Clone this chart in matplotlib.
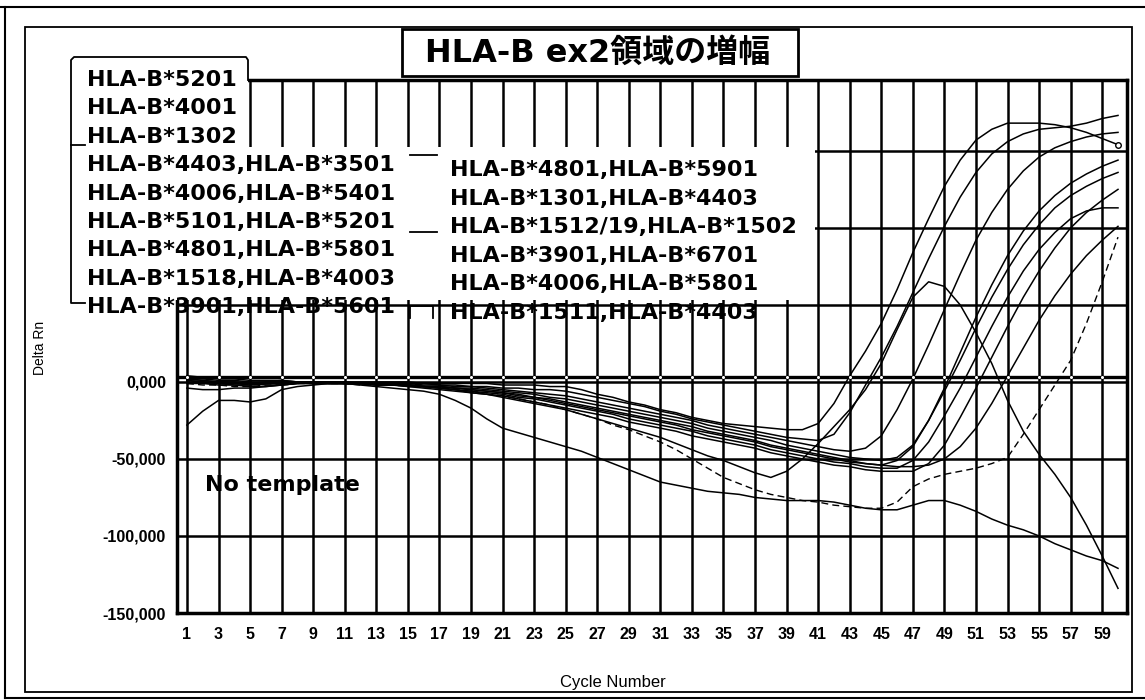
import numpy as np
import matplotlib
matplotlib.use("Agg")
import matplotlib.pyplot as plt
import matplotlib.transforms as mtransforms
from matplotlib.patches import Rectangle
from matplotlib.lines import Line2D

# ---------------------------------------------------------------- data
cycles = np.arange(1, 61)

# Delta Rn per cycle, in thousands
no_template = [-28, -19, -12, -12, -13, -11, -5, -3, -2, -1, -1, -2, -3, -4,
               -5, -6, -8, -12, -17, -24, -30, -33, -36, -39, -42, -45, -49, -53, -57, -61,
               -65, -67, -69, -71, -72, -73, -75, -76, -77, -77,
               -77, -78, -80, -82, -83, -83, -80, -77, -77, -80,
               -84, -89, -93, -96, -100, -105, -109, -113, -116, -121]

amp_1 = [2, 1, 0, 0, -1, -1, 0, 0, 0, 0, 0, 0, 0, 0,
         0, -1, -1, -1, -1, -1, -2, -2, -2, -3, -3, -5, -8, -10, -13, -15,
         -18, -20, -23, -25, -27, -28, -29, -30, -31, -31,
         -27, -14, 4, 20, 38, 60, 84, 106, 127, 144,
         157, 164, 168, 168, 168, 167, 165, 162, 158, 154]

amp_2 = [3, 2, 1, 1, 0, 0, 1, 0, 0, -1, -1, -1, -1, -1,
         -1, -1, -2, -2, -3, -3, -4, -4, -5, -5, -6, -8, -10, -12, -14, -16,
         -19, -21, -24, -26, -28, -30, -32, -34, -36, -37,
         -38, -34, -20, -2, 16, 36, 58, 80, 101, 120,
         136, 148, 156, 161, 164, 165, 166, 168, 171, 173]

amp_3 = [1, 0, -1, -1, -2, -1, -1, 0, 0, 0, -1, -1, -1, -1,
         -1, -2, -2, -3, -3, -4, -5, -6, -7, -8, -9, -11, -13, -15, -17, -19,
         -21, -23, -25, -28, -30, -32, -34, -36, -38, -40,
         -42, -44, -45, -43, -35, -18, 2, 24, 47, 70,
         92, 110, 125, 137, 146, 152, 156, 159, 161, 162]

amp_4 = [0, -1, -2, -2, -2, -1, -1, 0, -1, -1, -1, -1, -2, -2,
         -2, -3, -3, -4, -5, -6, -7, -8, -10, -11, -13, -15, -17, -19, -21, -23,
         -25, -27, -29, -32, -34, -36, -38, -41, -43, -45,
         -47, -49, -51, -53, -54, -51, -42, -25, -4, 19,
         42, 63, 82, 98, 111, 121, 129, 135, 140, 144]

amp_5 = [-4, -5, -5, -4, -4, -3, -2, -1, -1, -1, -1, -1, -2, -2,
         -2, -3, -3, -4, -4, -5, -6, -7, -8, -10, -11, -13, -15, -17, -19, -21,
         -23, -25, -27, -30, -32, -34, -36, -38, -41, -43,
         -45, -47, -49, -50, -51, -49, -41, -25, -6, 14,
         35, 55, 73, 89, 102, 113, 121, 127, 132, 136]

amp_6 = [1, 0, -1, -2, -3, -3, -2, -1, -1, -1, -1, -1, -1, -2,
         -2, -3, -4, -5, -6, -7, -8, -10, -11, -13, -15, -17, -19, -21, -24, -26,
         -28, -30, -32, -35, -37, -39, -41, -44, -46, -48,
         -50, -52, -53, -55, -56, -56, -51, -39, -22, -4,
         16, 36, 55, 72, 86, 97, 106, 111, 113, 113]

amp_7 = [-1, -1, 0, 0, -1, -2, -2, -1, 0, 0, -1, -1, -2, -2,
         -3, -4, -5, -6, -7, -8, -9, -11, -13, -15, -17, -19, -21, -23, -26, -28,
         -30, -32, -35, -37, -39, -41, -43, -46, -48, -50,
         -52, -54, -55, -57, -58, -58, -58, -53, -41, -23,
         -4, 16, 36, 55, 72, 87, 100, 110, 118, 125]

amp_8 = [2, 1, 0, -1, -1, 0, 0, 0, 0, -1, -1, -1, -1, -2,
         -2, -3, -3, -4, -5, -6, -7, -9, -10, -12, -14, -16, -18, -20, -22, -24,
         -26, -28, -31, -33, -35, -37, -39, -42, -44, -46,
         -48, -50, -52, -53, -54, -55, -55, -54, -50, -42,
         -30, -14, 4, 22, 40, 56, 70, 82, 92, 101]

peak_drop = [4, 3, 2, 2, 1, 1, 1, 0, 0, 0, 0, -1, -1, -1,
             -2, -3, -4, -5, -7, -8, -10, -12, -14, -16, -18, -21, -24, -27, -30, -33,
             -36, -40, -44, -48, -51, -55, -59, -62, -58, -50,
             -40, -29, -18, -5, 12, 34, 55, 65, 62, 50,
             32, 12, -12, -32, -47, -60, -75, -93, -113, -134]

late_dashed = [-1, -2, -2, -3, -3, -2, -2, -1, -1, -1, -1, -2, -2, -2,
               -3, -3, -4, -5, -6, -8, -9, -11, -13, -15, -18, -21, -24, -28, -31, -35,
               -39, -44, -50, -56, -62, -66, -70, -73, -75, -77,
               -78, -80, -81, -82, -82, -78, -68, -63, -60, -58,
               -56, -53, -49, -34, -18, -2, 14, 38, 65, 94]

threshold = 3.5  # thousands

legend_left = ["HLA-B*5201", "HLA-B*4001", "HLA-B*1302",
               "HLA-B*4403,HLA-B*3501", "HLA-B*4006,HLA-B*5401",
               "HLA-B*5101,HLA-B*5201", "HLA-B*4801,HLA-B*5801",
               "HLA-B*1518,HLA-B*4003", "HLA-B*3901,HLA-B*5601"]
legend_right = ["HLA-B*4801,HLA-B*5901", "HLA-B*1301,HLA-B*4403",
                "HLA-B*1512/19,HLA-B*1502", "HLA-B*3901,HLA-B*6701",
                "HLA-B*4006,HLA-B*5801", "HLA-B*1511,HLA-B*4403"]

ytick_values = [-150000, -100000, -50000, 0, 50000, 100000, 150000]
ytick_labels = ["-150,000", "-100,000", "-50,000", "0,000", "", "", ""]
xtick_values = list(range(1, 60, 2))

title_text = "HLA-B ex2領域の増幅"

# ---------------------------------------------------------------- figure
W, H = 1145, 700
fig = plt.figure(figsize=(W / 100, H / 100), dpi=100)
fig.patch.set_facecolor("white")
# pixel coordinates measured from the top-left corner
px = mtransforms.Affine2D().scale(1 / W, -1 / H).translate(0, 1) + fig.transFigure

ax = fig.add_axes([177 / W, 1 - 613 / H, 950 / W, 533 / H])
ax.set_xlim(0.37, 60.57)
ax.set_ylim(-150000, 196000)

solid_curves = [amp_1, amp_2, amp_3, amp_4, amp_5, amp_6, amp_7, amp_8,
                peak_drop, no_template]
for vals in solid_curves:
    ax.plot(cycles, np.array(vals) * 1000, color="black", lw=1.1, zorder=3)
ax.plot(cycles, np.array(late_dashed) * 1000, color="black", lw=1.0,
        ls=(0, (5, 3)), zorder=3)
ax.plot(cycles[-1], amp_1[-1] * 1000, "o", ms=4, mfc="white", mec="black",
        mew=1.0, zorder=4)

# threshold line
ax.axhline(threshold * 1000, color="black", lw=2.4, zorder=4)
ax.plot(xtick_values, [threshold * 1000] * len(xtick_values), "o", ms=2.2,
        mfc="white", mec="none", zorder=5)

ax.set_xticks(xtick_values)
ax.set_xticklabels([str(v) for v in xtick_values])
ax.set_yticks(ytick_values)
ax.set_yticklabels(ytick_labels)
ax.grid(True, color="black", lw=1.8)
ax.set_axisbelow(True)
ax.tick_params(length=0, labelsize=11.5, pad=10)
ax.tick_params(axis="y", pad=8)
for lbl in ax.get_xticklabels() + ax.get_yticklabels():
    lbl.set_fontweight("bold")
    lbl.set_family("Liberation Sans")
for sp in ax.spines.values():
    sp.set_linewidth(2.5)

# ---------------------------------------------------------------- frames
fig.add_artist(Line2D([0, W], [7, 7], transform=px, color="black", lw=1.5))
fig.add_artist(Line2D([5, 5], [7, 698], transform=px, color="black", lw=1.5))
fig.add_artist(Line2D([5, W], [698, 698], transform=px, color="black", lw=1.5))
fig.add_artist(Rectangle((25, 27), 1107, 665, transform=px, fill=False,
                         edgecolor="black", lw=1.3))

# axis titles
fig.text(40, 348, "Delta Rn", transform=px, rotation=90, ha="center",
         va="center", fontsize=10, family="Liberation Sans")
fig.text(613, 683, "Cycle Number", transform=px, ha="center", va="center",
         fontsize=12, family="Liberation Sans")

# title box
fig.add_artist(Rectangle((402, 29), 396, 47, transform=px, facecolor="white",
                         edgecolor="black", lw=2.0, zorder=10))
fig.text(598, 53, title_text, transform=px, ha="center", va="center",
         fontsize=23, fontweight="bold",
         family=["DejaVu Sans", "Noto Sans CJK JP"], zorder=11)

# legend panel
fig.add_artist(Rectangle((71, 57), 177, 92, transform=px, facecolor="white",
                         edgecolor="none", zorder=10))
fig.add_artist(Rectangle((71, 147), 744, 153, transform=px, facecolor="white",
                         edgecolor="none", zorder=10))
fig.add_artist(Line2D([85, 71, 71, 74, 246, 248, 248],
                      [303, 303, 60, 57, 57, 60, 80], transform=px,
                      color="black", lw=1.3, zorder=11))
fig.add_artist(Line2D([71, 85], [145, 145], transform=px, color="black",
                      lw=1.3, zorder=11))
for y in (155, 232):
    fig.add_artist(Line2D([410, 437], [y, y], transform=px, color="black",
                          lw=1.3, zorder=11))
fig.add_artist(Line2D([410, 410, 433, 433], [318, 306, 306, 318],
                      transform=px, color="black", lw=1.3, zorder=11))

legend_font = dict(fontsize=16, fontweight="bold", family="DejaVu Sans",
                   va="center", ha="left", zorder=12)
for i, s in enumerate(legend_left):
    fig.text(87, 80 + 28.4 * i, s, transform=px, **legend_font)
for i, s in enumerate(legend_right):
    fig.text(450, 170 + 28.6 * i, s, transform=px, **legend_font)

fig.text(205, 485, "No template", transform=px, **legend_font)

fig.savefig("out.png", dpi=100, facecolor="white")
